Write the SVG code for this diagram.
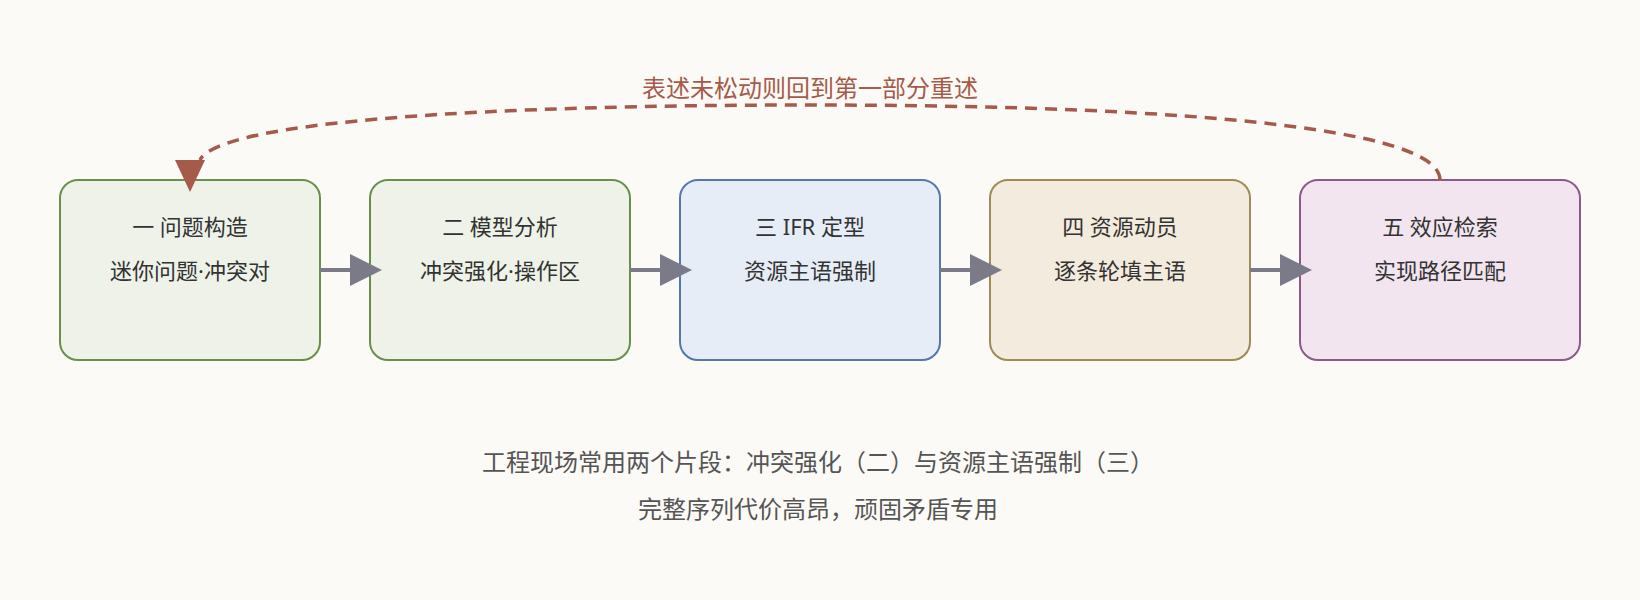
<svg xmlns="http://www.w3.org/2000/svg" width="1640" height="600" viewBox="0 0 1640 600">
<style>
text{font-family:"Noto Sans","Noto Sans CJK SC",sans-serif;font-size:22px;fill:#333;text-anchor:middle}
.b{stroke-width:2}
.note{fill:#555;font-size:24px}
</style>
<rect width="1640" height="600" fill="#fbfaf6"/>
<g id="n1"><rect class="b" x="60" y="180" width="260" height="180" rx="18" fill="#eef2e8" stroke="#6a8f4a"/><text x="190" y="235">一 问题构造</text><text x="190" y="279">迷你问题·冲突对</text></g>
<g id="n2"><rect class="b" x="370" y="180" width="260" height="180" rx="18" fill="#eef2e8" stroke="#6a8f4a"/><text x="500" y="235">二 模型分析</text><text x="500" y="279">冲突强化·操作区</text></g>
<g id="n3"><rect class="b" x="680" y="180" width="260" height="180" rx="18" fill="#e6edf6" stroke="#5577b0"/><text x="810" y="235">三 IFR 定型</text><text x="810" y="279">资源主语强制</text></g>
<g id="n4"><rect class="b" x="990" y="180" width="260" height="180" rx="18" fill="#f3ebdd" stroke="#a08a55"/><text x="1120" y="235">四 资源动员</text><text x="1120" y="279">逐条轮填主语</text></g>
<g id="n5"><rect class="b" x="1300" y="180" width="280" height="180" rx="18" fill="#f2e5ef" stroke="#8a5a8a"/><text x="1440" y="235">五 效应检索</text><text x="1440" y="279">实现路径匹配</text></g>
<g id="connectors" fill="none">
<g stroke="#7a7a88" stroke-width="4">
<line x1="320" y1="270" x2="350" y2="270"/><line x1="630" y1="270" x2="660" y2="270"/><line x1="940" y1="270" x2="970" y2="270"/><line x1="1250" y1="270" x2="1280" y2="270"/>
</g>
<g fill="#7a7a88">
<path d="M350,254 L382,270 L350,286z"/><path d="M660,254 L692,270 L660,286z"/><path d="M970,254 L1002,270 L970,286z"/><path d="M1280,254 L1312,270 L1280,286z"/>
</g>
<path d="M1440,180 C1440,120 1100,105 810,105 C500,105 220,120 200,160" stroke="#a65a4a" stroke-width="3.5" stroke-dasharray="12,8"/>
<path d="M175,160 L205,160 L190,192z" fill="#a65a4a"/>
<text x="810" y="97" style="fill:#a65a4a;font-size:24px">表述未松动则回到第一部分重述</text>
</g>
<text class="note" x="818" y="471">工程现场常用两个片段：冲突强化（二）与资源主语强制（三）</text>
<text class="note" x="818" y="518">完整序列代价高昂，顽固矛盾专用</text>
</svg>
